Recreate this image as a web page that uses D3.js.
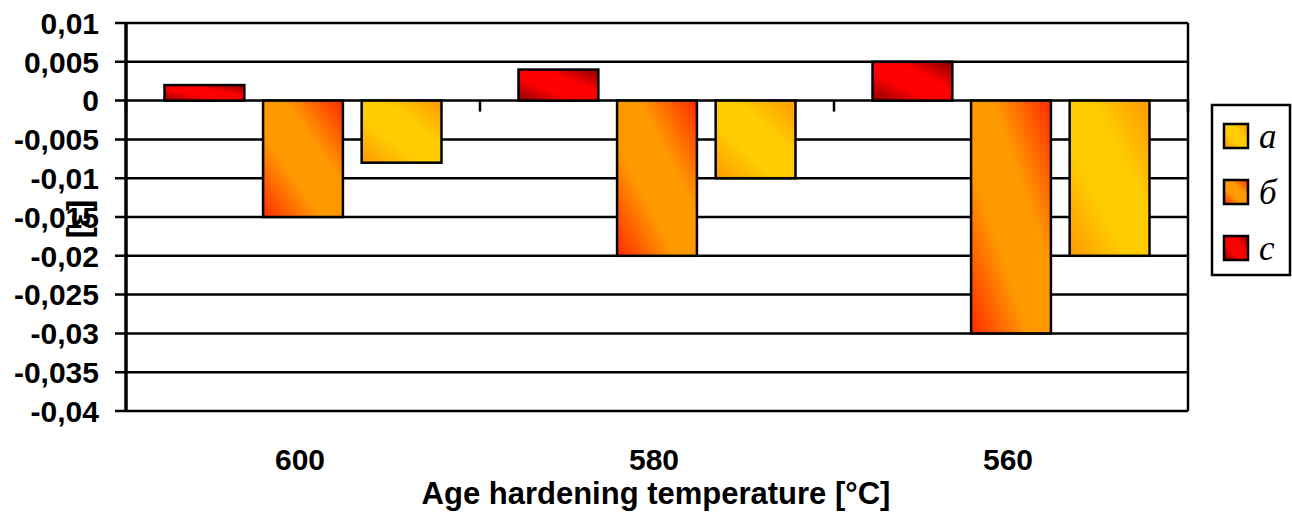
<!DOCTYPE html>
<html>
<head>
<meta charset="utf-8">
<script src="https://cdn.jsdelivr.net/npm/d3@7"></script>
<style>
    body { margin: 0; background: #fff; }
    text { font-family: "Liberation Sans", Arial, sans-serif; font-weight: bold; fill: #000; }
    .legend-label { font-family: "Liberation Serif", "Times New Roman", serif; font-style: italic; font-weight: normal; }
</style>
</head>
<body>
<div id="chart"></div>
<script>
const categories=["600", "580", "560"];
const seriesNames=["c", "b", "a"];
const legendNames=["a", "б", "c"];
const valuesA=[-0.008, -0.01, -0.02];
const valuesB=[-0.015, -0.02, -0.03];
const valuesC=[0.002, 0.004, 0.005];
const yTicks=[0.01, 0.005, 0, -0.005, -0.01, -0.015, -0.02, -0.025, -0.03, -0.035, -0.04];

const width=1292;
const height=512;
const plotLeft=126, plotRight=1188, plotTop=23, plotBottom=411;

const seriesValues={a: valuesA, b: valuesB, c: valuesC};
const grads={
    c: ["#8a0000", "#ff0000", "#8a0000"],
    b: ["#ff2a00", "#ff9900", "#ff2a00"],
    a: ["#ff9900", "#ffcc00", "#ff9900"]
};

const svg=d3.select("#chart")
    .append("svg")
    .attr("width", width)
    .attr("height", height);

const defs=svg.append("defs");
Object.keys(grads).forEach(k => {
    const g=defs.append("linearGradient")
        .attr("id", "grad-"+k)
        .attr("x1", 0).attr("y1", 1)
        .attr("x2", 1).attr("y2", 0);
    g.append("stop").attr("offset", "0%").attr("stop-color", grads[k][0]);
    g.append("stop").attr("offset", "36%").attr("stop-color", grads[k][1]);
    g.append("stop").attr("offset", "64%").attr("stop-color", grads[k][1]);
    g.append("stop").attr("offset", "100%").attr("stop-color", grads[k][2]);
});

const y=d3.scaleLinear()
    .domain([-0.04, 0.01])
    .range([plotBottom, plotTop]);

const x0=d3.scaleBand()
    .domain(categories)
    .range([plotLeft, plotRight])
    .paddingInner(0.2175)
    .paddingOuter(0.10875);

const x1=d3.scaleBand()
    .domain(seriesNames)
    .range([0, x0.bandwidth()])
    .paddingInner(0.19);

const step=x0.step();

// gridlines
svg.append("g")
    .selectAll("line")
    .data(yTicks)
    .enter().append("line")
    .attr("x1", plotLeft-11)
    .attr("x2", plotRight)
    .attr("y1", d => y(d))
    .attr("y2", d => y(d))
    .attr("stroke", "#000")
    .attr("stroke-width", 2.5);

// right border
svg.append("line")
    .attr("x1", plotRight).attr("x2", plotRight)
    .attr("y1", plotTop).attr("y2", plotBottom)
    .attr("stroke", "#000")
    .attr("stroke-width", 2.5);

// bars
const groups=svg.append("g")
    .selectAll("g")
    .data(categories)
    .enter().append("g")
    .attr("transform", d => `translate(${x0(d)},0)`);

groups.selectAll("rect")
    .data((d, i) => seriesNames.map(s => ({s: s, v: seriesValues[s][i]})))
    .enter().append("rect")
    .attr("x", d => x1(d.s))
    .attr("width", x1.bandwidth())
    .attr("y", d => y(Math.max(0, d.v)))
    .attr("height", d => Math.abs(y(d.v)-y(0)))
    .attr("fill", d => `url(#grad-${d.s})`)
    .attr("stroke", "#000")
    .attr("stroke-width", 2.5);

// category separators on zero line
svg.append("g")
    .selectAll("line")
    .data(d3.range(categories.length+1))
    .enter().append("line")
    .attr("x1", i => plotLeft+i*step)
    .attr("x2", i => plotLeft+i*step)
    .attr("y1", y(0))
    .attr("y2", y(0)+11)
    .attr("stroke", "#000")
    .attr("stroke-width", 2.5);

// y axis line
svg.append("line")
    .attr("x1", plotLeft).attr("x2", plotLeft)
    .attr("y1", plotTop).attr("y2", plotBottom)
    .attr("stroke", "#000")
    .attr("stroke-width", 3.5);

// y tick labels
svg.append("g")
    .selectAll("text")
    .data(yTicks)
    .enter().append("text")
    .attr("x", 99)
    .attr("y", d => y(d))
    .attr("dy", "0.36em")
    .attr("text-anchor", "end")
    .style("font-size", "30px")
    .text(d => d===0 ? "0" : String(d).replace(".", ","));

// x category labels
svg.append("g")
    .selectAll("text")
    .data(categories)
    .enter().append("text")
    .attr("x", (d, i) => plotLeft+i*step+step/2-3)
    .attr("y", 470)
    .attr("text-anchor", "middle")
    .style("font-size", "30px")
    .text(d => d);

svg.append("text")
    .attr("x", 656)
    .attr("y", 504)
    .attr("text-anchor", "middle")
    .style("font-size", "31px")
    .text("Age hardening temperature [°C]");

svg.append("text")
    .attr("transform", "translate(90,219) rotate(-90)")
    .attr("text-anchor", "middle")
    .style("font-size", "34px")
    .text("[ε]");

// legend
const lg=svg.append("g");
lg.append("rect")
    .attr("x", 1212).attr("y", 105)
    .attr("width", 78).attr("height", 170)
    .attr("fill", "#fff")
    .attr("stroke", "#000")
    .attr("stroke-width", 2.5);

const legendKeys=["a", "b", "c"];
const items=lg.selectAll(".item")
    .data(legendKeys)
    .enter().append("g")
    .attr("class", "item")
    .attr("transform", (d, i) => `translate(1224,${124+i*56})`);

items.append("rect")
    .attr("width", 24).attr("height", 24)
    .attr("fill", d => `url(#grad-${d})`)
    .attr("stroke", "#000")
    .attr("stroke-width", 2.5);

items.append("text")
    .attr("class", "legend-label")
    .attr("x", 35)
    .attr("y", 24)
    .style("font-size", "35px")
    .text((d, i) => legendNames[i]);
</script>
</body>
</html>
